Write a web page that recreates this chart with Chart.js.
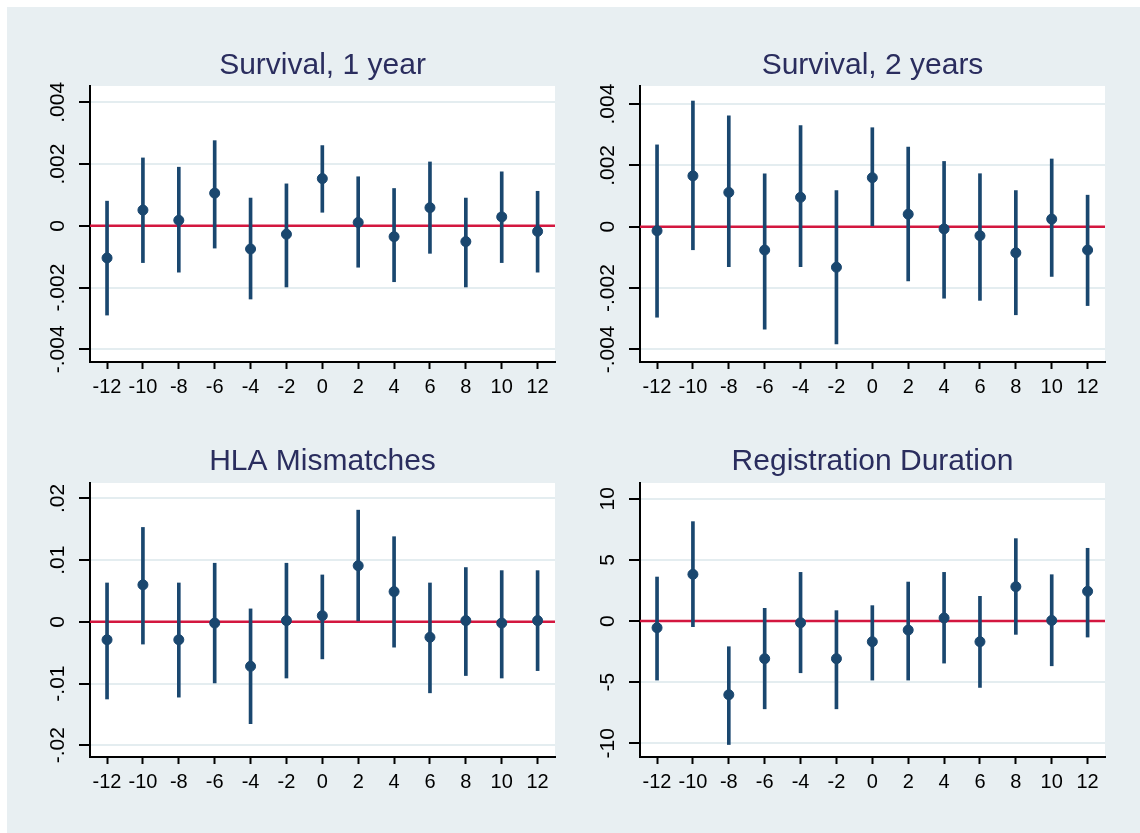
<!DOCTYPE html>
<html>
<head>
<meta charset="utf-8">
<script src="https://cdn.jsdelivr.net/npm/chart.js@4.4.1/dist/chart.umd.min.js"></script>
<style>
  html, body { margin: 0; padding: 0; background: #fff; }
  #bg { position: absolute; left: 7px; top: 7px; width: 1133px; height: 826px; background: #e8eff2; }
  canvas { position: absolute; left: 0; top: 0; }
</style>
</head>
<body>
<div id="bg"></div>
<canvas id="c1" width="1140" height="833"></canvas>
<canvas id="c2" width="1140" height="833"></canvas>
<canvas id="c3" width="1140" height="833"></canvas>
<canvas id="c4" width="1140" height="833"></canvas>
<script>
// periods relative to the cutoff
const periods = [-12, -10, -8, -6, -4, -2, 0, 2, 4, 6, 8, 10, 12];
const xTickLabels = ['-12', '-10', '-8', '-6', '-4', '-2', '0', '2', '4', '6', '8', '10', '12'];

// Survival, 1 year
const surv1Est = [-0.00104, 0.00051, 0.00018, 0.00106, -0.00075, -0.00027, 0.00153, 0.00011, -0.00035, 0.00059, -0.00051, 0.00029, -0.00018];
const surv1Lo  = [-0.00289, -0.00119, -0.00150, -0.00072, -0.00237, -0.00198, 0.00044, -0.00134, -0.00181, -0.00089, -0.00198, -0.00119, -0.00150];
const surv1Hi  = [0.00080, 0.00220, 0.00190, 0.00276, 0.00090, 0.00136, 0.00260, 0.00159, 0.00121, 0.00207, 0.00090, 0.00175, 0.00112];

// Survival, 2 years
const surv2Est = [-0.00013, 0.00166, 0.00112, -0.00076, 0.00096, -0.00132, 0.00160, 0.00041, -0.00007, -0.00029, -0.00085, 0.00025, -0.00076];
const surv2Lo  = [-0.00295, -0.00075, -0.00130, -0.00334, -0.00130, -0.00382, 0.00000, -0.00177, -0.00233, -0.00240, -0.00287, -0.00162, -0.00257];
const surv2Hi  = [0.00267, 0.00410, 0.00362, 0.00173, 0.00330, 0.00118, 0.00323, 0.00260, 0.00213, 0.00173, 0.00118, 0.00221, 0.00103];

// HLA Mismatches
const hlaEst = [-0.0029, 0.0060, -0.0029, -0.0002, -0.0072, 0.0002, 0.0010, 0.0091, 0.0049, -0.0025, 0.0002, -0.0002, 0.0002];
const hlaLo  = [-0.0125, -0.0036, -0.0122, -0.0099, -0.0165, -0.0091, -0.0060, 0.0000, -0.0041, -0.0115, -0.0087, -0.0091, -0.0079];
const hlaHi  = [0.0063, 0.0153, 0.0063, 0.0095, 0.0021, 0.0095, 0.0076, 0.0181, 0.0138, 0.0063, 0.0088, 0.0083, 0.0083];

// Registration Duration
const regEst = [-0.55, 3.82, -6.03, -3.08, -0.14, -3.08, -1.69, -0.74, 0.25, -1.69, 2.81, 0.05, 2.43];
const regLo  = [-4.83, -0.46, -10.1, -7.18, -4.23, -7.18, -4.83, -4.83, -3.44, -5.43, -1.09, -3.66, -1.31];
const regHi  = [3.60, 8.13, -2.10, 1.04, 3.98, 0.85, 1.26, 3.19, 3.98, 2.02, 6.74, 3.79, 5.95];

// y axis ticks
const survTicks = [-0.004, -0.002, 0, 0.002, 0.004];
const survTickLabels = ['-.004', '-.002', '0', '.002', '.004'];
const hlaTicks = [-0.02, -0.01, 0, 0.01, 0.02];
const hlaTickLabels = ['-.02', '-.01', '0', '.01', '.02'];
const regTicks = [-10, -5, 0, 5, 10];
const regTickLabels = ['-10', '-5', '0', '5', '10'];

const NAVY = '#1a476f';
const RED = '#d3173f';
const TITLE = '#2a2d5e';
const FONT = '"Liberation Sans", Arial, sans-serif';
const X_MIN = -12.95, X_MAX = 12.97;
const Y_FONT = 21;

Chart.defaults.font.family = FONT;

// white plot region like stata's
const plotBg = {
  id: 'plotBg',
  beforeDraw(chart) {
    const { ctx, chartArea: a } = chart;
    ctx.save();
    ctx.fillStyle = '#fff';
    ctx.fillRect(a.left, a.top, a.right - a.left, a.bottom - a.top);
    ctx.restore();
  }
};

function textWidth(s, px) {
  const c = document.createElement('canvas').getContext('2d');
  c.font = px + 'px ' + FONT;
  return c.measureText(s).width;
}

function makePanel(id, title, est, lo, hi, yMin, yMax, yTicks, yLabels, box) {
  const widest = Math.max(...yLabels.map(l => textWidth(l, Y_FONT)));
  new Chart(document.getElementById(id), {
    type: 'scatter',
    data: {
      datasets: [
        {
          type: 'scatter',
          data: periods.map((x, i) => ({ x: x, y: est[i] })),
          backgroundColor: NAVY,
          borderColor: NAVY,
          pointRadius: 5,
          order: 0
        },
        {
          type: 'bar',
          data: periods.map((x, i) => ({ x: x, y: [lo[i], hi[i]] })),
          backgroundColor: NAVY,
          barThickness: 3,
          order: 1
        },
        {
          type: 'line',
          data: [{ x: X_MIN, y: 0 }, { x: X_MAX, y: 0 }],
          borderColor: RED,
          borderWidth: 2.5,
          pointRadius: 0,
          order: 2
        }
      ]
    },
    options: {
      responsive: false,
      animation: false,
      layout: {
        padding: { left: box.left - 40, right: 1140 - box.right, top: 0, bottom: 833 - box.bottom - 40 }
      },
      plugins: {
        legend: { display: false },
        tooltip: { enabled: false },
        title: {
          display: true,
          text: title,
          fullSize: false,
          color: TITLE,
          font: { size: 30, weight: 'normal' },
          padding: { top: box.titleMid - 18, bottom: box.top - box.titleMid - 18 }
        }
      },
      scales: {
        x: {
          type: 'linear',
          min: X_MIN,
          max: X_MAX,
          offset: false,
          afterBuildTicks: s => { s.ticks = periods.map(v => ({ value: v })); },
          afterFit: s => { s.height = 40; },
          grid: { drawOnChartArea: false, offset: false, tickLength: 7, tickColor: '#000', tickWidth: 2 },
          border: { color: '#000', width: 2 },
          ticks: {
            autoSkip: false, maxRotation: 0, padding: 6, color: '#000',
            font: { size: 20 },
            callback: (v, i) => xTickLabels[i]
          }
        },
        y: {
          min: yMin,
          max: yMax,
          afterBuildTicks: s => { s.ticks = yTicks.map(v => ({ value: v })); },
          afterFit: s => { s.width = 40; },
          grid: { color: '#e4edf0', lineWidth: 2, tickLength: 11, tickColor: '#000', tickWidth: 2 },
          border: { color: '#000', width: 2 },
          ticks: {
            minRotation: 90, maxRotation: 90, crossAlign: 'center',
            padding: 21 - widest / 2, color: '#000',
            font: { size: Y_FONT },
            callback: (v, i) => yLabels[i]
          }
        }
      }
    },
    plugins: [plotBg]
  });
}

makePanel('c1', 'Survival, 1 year', surv1Est, surv1Lo, surv1Hi, -0.00441, 0.00453, survTicks, survTickLabels,
  { left: 90, right: 555, top: 86, bottom: 362, titleMid: 66 });
makePanel('c2', 'Survival, 2 years', surv2Est, surv2Lo, surv2Hi, -0.00441, 0.00459, survTicks, survTickLabels,
  { left: 640, right: 1105, top: 86, bottom: 362, titleMid: 66 });
makePanel('c3', 'HLA Mismatches', hlaEst, hlaLo, hlaHi, -0.0219, 0.0225, hlaTicks, hlaTickLabels,
  { left: 90, right: 555, top: 483, bottom: 757, titleMid: 462 });
makePanel('c4', 'Registration Duration', regEst, regLo, regHi, -11.12, 11.29, regTicks, regTickLabels,
  { left: 640, right: 1105, top: 483, bottom: 757, titleMid: 462 });
</script>
</body>
</html>
